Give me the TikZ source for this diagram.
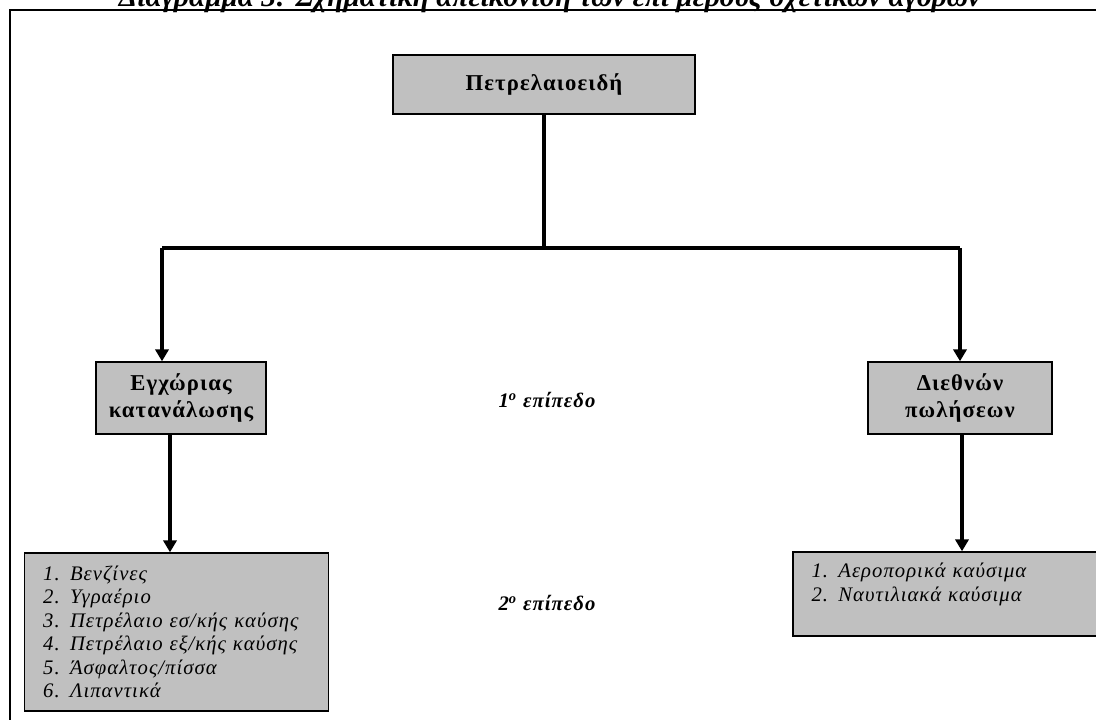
\documentclass[tikz,border=0pt]{standalone}
\usepackage{fontspec}
\setmainfont{Liberation Serif}
\newfontfamily\boxfont[LetterSpace=5]{Liberation Serif}
\newfontfamily\listfont[LetterSpace=5]{Liberation Serif}
\usetikzlibrary{arrows.meta,calc}
\definecolor{boxgray}{HTML}{C0C0C0}
\begin{document}
\begin{tikzpicture}[x=0.75pt,y=-0.75pt,
  catbox/.style={draw, fill=boxgray, line width=1.1pt, align=center,
    font=\boxfont\bfseries\fontsize{17}{20}\selectfont, inner sep=0pt},
  listbox/.style={draw, fill=boxgray, line width=1.1pt, align=left,
    font=\listfont\itshape\fontsize{15.5}{17.6}\selectfont, inner ysep=0pt, inner xsep=14pt},
  conn/.style={line width=2.4pt},
  arr/.style={conn, -{Triangle[width=10pt,length=9pt]}},
  lvl/.style={font=\listfont\bfseries\itshape\fontsize{15.5}{17}\selectfont}
]
\useasboundingbox (0,0) rectangle (1096,720);
\begin{scope}
\clip (0,0) rectangle (1096,720);
\draw[line width=1.5pt] (10,740) -- (10,10) -- (1120,10) -- (1120,740);
\node[anchor=base, font=\bfseries\itshape\fontsize{22}{24}\selectfont] (title) at (550,7)
  {Διάγραμμα 3: Σχηματική απεικόνιση των επί μέρους σχετικών αγορών};

\node[catbox, line width=2.2pt, minimum width=226.5pt, minimum height=44.25pt] (top) at (544,84.5) {Πετρελαιοειδή};
\node[catbox, minimum width=127.5pt, minimum height=54pt] (dom) at (181,398) {Εγχώριας\\κατανάλωσης};
\node[catbox, minimum width=138pt, minimum height=54pt] (intl) at (960,398) {Διεθνών\\πωλήσεων};

\node[listbox, text width=200pt, minimum height=118.5pt] (domlist) at (176.5,632)
  {1. Βενζίνες\\2. Υγραέριο\\3. Πετρέλαιο εσ/κής καύσης\\4. Πετρέλαιο εξ/κής καύσης\\5. Άσφαλτος/πίσσα\\6. Λιπαντικά};
\node[listbox, text width=210pt, minimum height=63pt] (intlist) at (951.5,594)
  {1. Αεροπορικά καύσιμα\\2. Ναυτιλιακά καύσιμα\\\mbox{}};

\node[lvl] (lvl1) at (547,400) {1\textsuperscript{ο} επίπεδο};
\node[lvl] (lvl2) at (547,603) {2\textsuperscript{ο} επίπεδο};

\coordinate (hl) at (162,248);
\coordinate (hr) at (960,248);
\coordinate (jn) at (top.south |- hl);
\draw[conn] (top.south) -- (jn);
\draw[conn] (hl) -- (hr);
\draw[arr] (hl) -- (hl |- dom.north);
\draw[arr] (hr) -- (hr |- intl.north);
\coordinate (dout) at ($(dom.south)+(-11,0)$);
\coordinate (iout) at ($(intl.south)+(2,0)$);
\draw[arr] (dout) -- (dout |- domlist.north);
\draw[arr] (iout) -- (iout |- intlist.north);
\end{scope}
\end{tikzpicture}
\end{document}
